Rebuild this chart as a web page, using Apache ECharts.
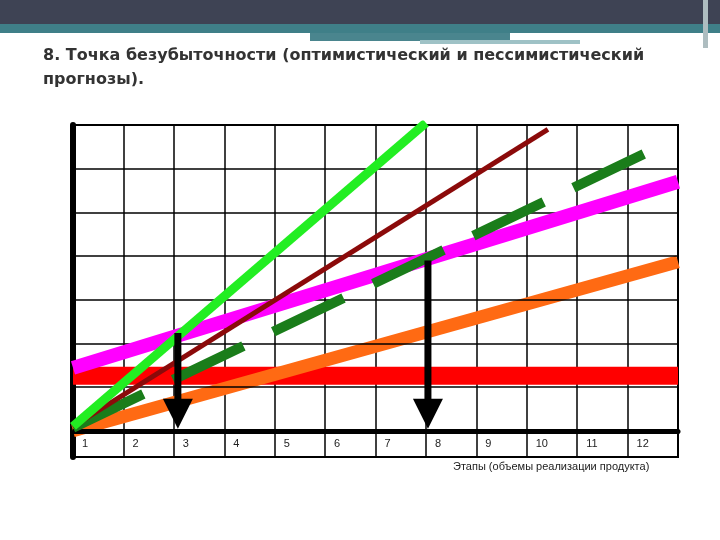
<!DOCTYPE html>
<html><head><meta charset="utf-8">
<script src="https://cdn.jsdelivr.net/npm/echarts@6/dist/echarts.min.js"></script>
<style>html,body{margin:0;padding:0;background:#fff}#c{width:720px;height:540px}</style>
</head><body><div id="c"></div>
<script>
var xTickLabels = ['1','2','3','4','5','6','7','8','9','10','11','12'];
var yLevels = [0,1,2,3,4,5,6,7];
var lightGreen = [[0,0.1],[7,7.05]];
var darkRed = [[0,0.1],[9.42,6.9]];
var magenta = [[0,1.44],[12,5.7]];
var redFixed = [[0,1.26],[12,1.26]];
var orange = [[0,0.0],[12,3.87]];
var darkGreen = [[0,0.07],[11.8,6.6]];
var arrow1 = [[2.08,2.24],[2.08,0.39]];
var arrow2 = [[7.04,3.9],[7.04,0.39]];

var chart = echarts.init(document.getElementById('c'));
function ln(data,color,w,z,dash){
  return {type:'line',data:data,symbol:'none',z:z,silent:true,
    lineStyle:{color:color,width:w,type:dash||'solid',cap:'butt'}};
}
function arrow(d){
  return {type:'line',z:20,silent:true,lineStyle:{color:'#000',width:7},
    data:[{value:d[0],symbol:'none'},{value:d[1],symbol:'triangle',symbolRotate:180,symbolSize:[30,30],itemStyle:{color:'#000'}}]};
}
chart.setOption({
  animation:false,
  grid:{left:73,right:42,top:125,bottom:83,show:true,borderColor:'#000',borderWidth:2},
  xAxis:{type:'value',min:0,max:12,interval:1,
    axisLine:{lineStyle:{color:'#000',width:5}},axisTick:{show:false},
    splitLine:{lineStyle:{color:'#000',width:1.5}},
    axisLabel:{inside:true,margin:8,verticalAlign:'bottom',align:'left',padding:[0,0,0,9],color:'#222',fontSize:11,fontFamily:'Liberation Sans',
      formatter:function(v){return v<12?xTickLabels[v]:'';}}},
  yAxis:{type:'value',min:-0.6,max:7,axisLabel:{show:false},axisTick:{show:false},
    splitLine:{show:false},axisLine:{show:true,lineStyle:{color:'#000',width:6}}},
  series:[
    {type:'line',data:[],markLine:{silent:true,symbol:'none',label:{show:false},
      data:yLevels.map(function(v){return {yAxis:v,lineStyle:{color:'#000',width:v===0?5:1.5,type:'solid'}};})}},
    ln(redFixed,'#ff0000',18,3),
    ln(orange,'#ff6a13',13,4),
    ln(magenta,'#ff00ff',14,5),
    ln(darkGreen,'#1a7d1a',10,6,[78,33]),
    ln(darkRed,'#8b0a0a',5,7),
    ln(lightGreen,'#22ee22',9,8),
    arrow(arrow1), arrow(arrow2)
  ],
  graphic:[
    {type:'rect',shape:{x:0,y:0,width:720,height:24},style:{fill:'#3e4354'}},
    {type:'rect',shape:{x:0,y:24,width:720,height:9},style:{fill:'#3f7f88'}},
    {type:'rect',shape:{x:310,y:33,width:200,height:8},style:{fill:'#4a858e'}},
    {type:'rect',shape:{x:420,y:40,width:160,height:4},style:{fill:'#9fc2c6'}},
    {type:'rect',shape:{x:703,y:0,width:5,height:48},style:{fill:'#aebdc0'}},
    {type:'text',left:43,top:48,style:{text:'8. Точка безубыточности (оптимистический и пессимистический',fontSize:16,fontWeight:'bold',fill:'#333',fontFamily:'DejaVu Sans'}},
    {type:'text',left:43,top:72,style:{text:'прогнозы).',fontSize:16,fontWeight:'bold',fill:'#333',fontFamily:'DejaVu Sans'}},
    {type:'text',left:453,top:461,style:{text:'Этапы (объемы реализации продукта)',fontSize:11,fill:'#222',fontFamily:'Liberation Sans'}}
  ]
});
</script></body></html>
